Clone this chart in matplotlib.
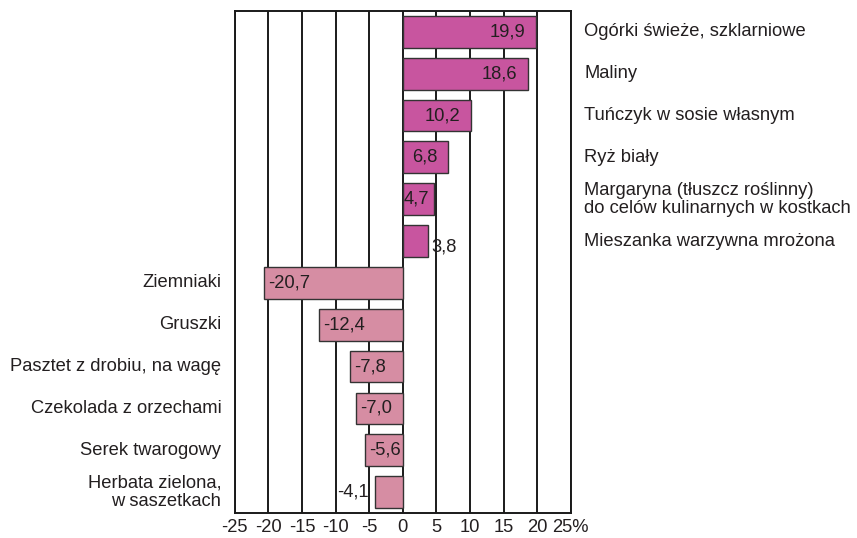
import matplotlib.pyplot as plt

plt.rcParams['font.family'] = ['Liberation Sans', 'DejaVu Sans']

# Data: price change, %
categories = [
    "Ogórki świeże, szklarniowe",
    "Maliny",
    "Tuńczyk w sosie własnym",
    "Ryż biały",
    "Margaryna (tłuszcz roślinny)\ndo celów kulinarnych w kostkach",
    "Mieszanka warzywna mrożona",
    "Ziemniaki",
    "Gruszki",
    "Pasztet z drobiu, na wagę",
    "Czekolada z orzechami",
    "Serek twarogowy",
    "Herbata zielona,\nw saszetkach",
]
values = [19.9, 18.6, 10.2, 6.8, 4.7, 3.8, -20.7, -12.4, -7.8, -7.0, -5.6, -4.1]
xticks = [-25, -20, -15, -10, -5, 0, 5, 10, 15, 20, 25]
xtick_labels = ["-25", "-20", "-15", "-10", "-5", "0", "5", "10", "15", "20", "25%"]

pos_color = '#C8559F'
neg_color = '#D68DA3'
fs = 13.2

fig = plt.figure(figsize=(8.57, 5.38), dpi=100)
ax = fig.add_axes([0.274, 0.0465, 0.392, 0.9331])

ypos = list(range(len(values)))
colors = [pos_color if v > 0 else neg_color for v in values]
ax.barh(ypos, values, height=0.76, color=colors, edgecolor='#333333',
        linewidth=1.0, zorder=3)

# vertical gridlines
for t in xticks:
    ax.axvline(t, color='#1a1a1a', linewidth=1.4, zorder=1)

ax.set_xlim(-25, 25)
ax.set_ylim(len(values) - 0.5, -0.5)
ax.set_xticks(xticks)
ax.set_xticklabels(xtick_labels, fontsize=fs, color='#231f20')
ax.tick_params(axis='x', length=0, pad=4)
ax.set_yticks([])
for s in ax.spines.values():
    s.set_linewidth(1.4)
    s.set_color('#1a1a1a')

# value labels
for y, v in zip(ypos, values):
    txt = f"{v:.1f}".replace('.', ',')
    if v > 0:
        if v >= 5:
            ax.text(v - 1.6, y, txt, ha='right', va='center', fontsize=fs, color='#231f20', zorder=4)
        elif v >= 4.5:
            ax.text(0.05, y, txt, ha='left', va='center', fontsize=fs, color='#231f20', zorder=4)
        else:
            ax.text(v + 0.4, y + 0.15, txt, ha='left', va='center', fontsize=fs, color='#231f20', zorder=4)
    else:
        if v <= -5:
            ax.text(v + 0.6, y, txt, ha='left', va='center', fontsize=fs, color='#231f20', zorder=4)
        else:
            ax.text(v - 0.9, y, txt, ha='right', va='center', fontsize=fs, color='#231f20', zorder=4)

# category labels
for y, v, c in zip(ypos, values, categories):
    if v > 0:
        ax.text(27.0, y, c, ha='left', va='center', fontsize=fs, color='#231f20',
                linespacing=1.1, clip_on=False)
    else:
        ax.text(-27.0, y, c, ha='right', va='center', fontsize=fs, color='#231f20',
                linespacing=1.1, clip_on=False)

fig.savefig('out.png', dpi=100)
